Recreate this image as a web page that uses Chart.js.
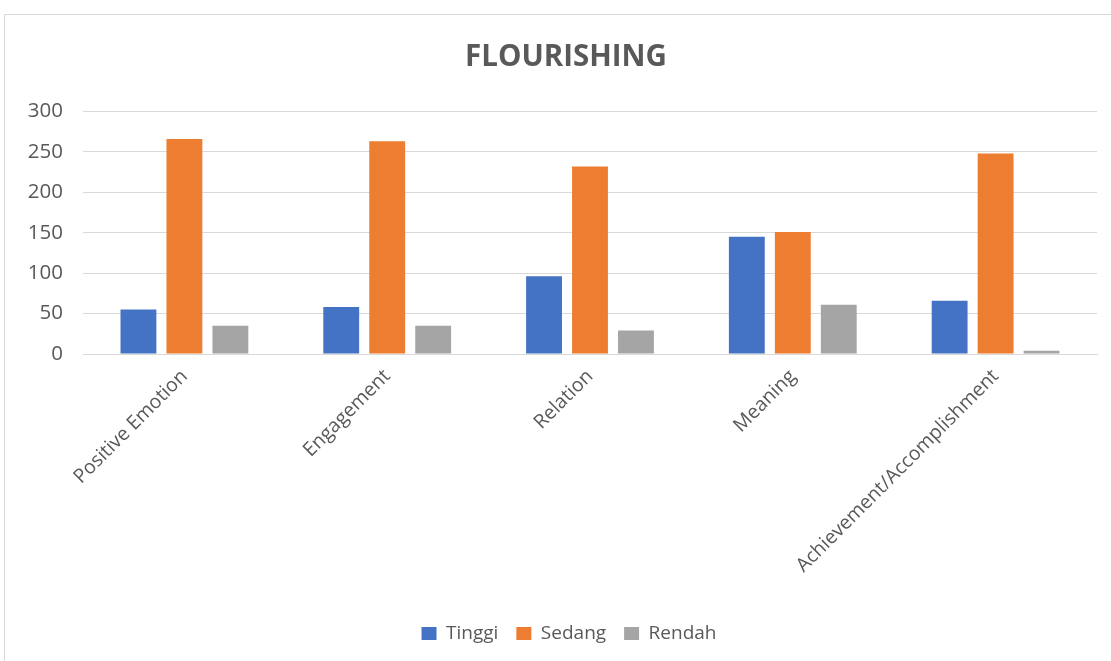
<!DOCTYPE html>
<html lang="id">
<head>
  <meta charset="UTF-8">
  <title>Flourishing</title>
  <script src="https://cdn.jsdelivr.net/npm/chart.js"></script>
  <style>
    html, body { margin: 0; padding: 0; background: #fff; }
    #frame {
      position: absolute; left: 4px; top: 14px;
      width: 1107px; height: 647px;
      border-left: 1px solid #d9d9d9; border-top: 1px solid #d9d9d9;
    }
    #frame canvas { display: block; }
  </style>
</head>
<body>
  <div id="frame"><canvas id="chart" width="1106" height="646"></canvas></div>
  <script>
  // data
  const categories = ['Positive Emotion', 'Engagement', 'Relation', 'Meaning', 'Achievement/Accomplishment'];
  const tinggi = [55, 58, 96, 145, 66];
  const sedang = [266, 263, 232, 151, 248];
  const rendah = [35, 35, 29, 61, 4];
  const yTicks = [0, 50, 100, 150, 200, 250, 300];

  const textGrey = '#595959';
  const fontFam = '"Open Sans", "Noto Sans", sans-serif';

  // title and legend sit a bit right of the canvas centre, like the excel chart
  const nudgeBoxes = {
    id: 'nudgeBoxes',
    afterLayout(chart) {
      if (chart.titleBlock) {
        chart.titleBlock.left += 15;
        chart.titleBlock.right += 15;
      }
      if (chart.legend) {
        chart.legend.left += 18;
        chart.legend.right += 18;
      }
    }
  };

  const ctx = document.getElementById('chart').getContext('2d');
  new Chart(ctx, {
    type: 'bar',
    data: {
      labels: categories,
      datasets: [
        { label: 'Tinggi', data: tinggi, backgroundColor: '#4472C4' },
        { label: 'Sedang', data: sedang, backgroundColor: '#ED7D31' },
        { label: 'Rendah', data: rendah, backgroundColor: '#A5A5A5' }
      ]
    },
    plugins: [nudgeBoxes],
    options: {
      responsive: false,
      animation: false,
      categoryPercentage: 0.68,
      barPercentage: 0.78,
      layout: { padding: { left: 0, right: 14, top: 0, bottom: 8 } },
      plugins: {
        title: {
          display: true,
          text: 'FLOURISHING',
          color: textGrey,
          font: { family: fontFam, size: 29.5, weight: 'bold' },
          padding: { top: 25, bottom: 36 }
        },
        legend: {
          position: 'bottom',
          labels: {
            color: textGrey,
            font: { family: fontFam, size: 19 },
            boxWidth: 15,
            boxHeight: 13,
            padding: 18
          }
        },
        tooltip: { enabled: false }
      },
      scales: {
        x: {
          grid: { display: false },
          border: { display: true, color: '#d9d9d9' },
          ticks: {
            color: textGrey,
            font: { family: fontFam, size: 19.5 },
            minRotation: 45,
            maxRotation: 45,
            autoSkip: false
          },
          afterFit: function(scale) { scale.height = 252; }
        },
        y: {
          min: 0,
          max: 300,
          afterBuildTicks: function(scale) { scale.ticks = yTicks.map(v => ({ value: v })); },
          grid: { color: '#d9d9d9', drawTicks: false },
          border: { display: false },
          ticks: {
            color: textGrey,
            font: { family: fontFam, size: 20.5 },
            padding: 20
          },
          afterFit: function(scale) { scale.width = 78; }
        }
      }
    }
  });
  </script>
</body>
</html>
